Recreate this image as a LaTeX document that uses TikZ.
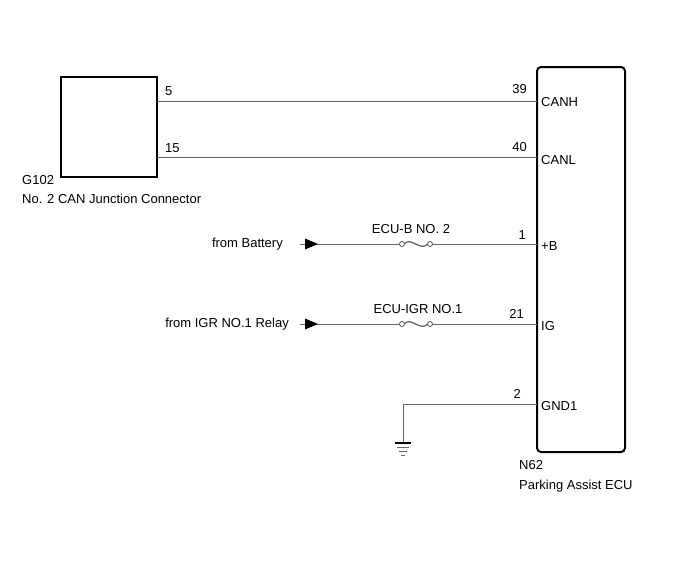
\documentclass[tikz,border=0pt]{standalone}
\usepackage{fontspec}
\setmainfont{Liberation Sans}
\begin{document}
\begin{tikzpicture}[x=1pt,y=-1pt,
  lbl/.style={font=\fontsize{13}{15}\selectfont,inner sep=0pt},
  wire/.style={draw=black!60,line width=0.9pt},
  box/.style={draw=black,line width=2pt},
  fuse/.style={wire,fill=white}]
\useasboundingbox (0,0) rectangle (688,560);
\draw[box] (61,77) rectangle (157,177);
\draw[box,rounded corners=4pt] (537,67) rectangle (625,452);
\coordinate (g5) at (157,101); \coordinate (e39) at (537,101);
\coordinate (g15) at (157,157); \coordinate (e40) at (537,157);
\draw[wire] (g5) -- (e39);
\draw[wire] (g15) -- (e40);
\node[lbl,anchor=base west] (n5) at (165,95) {5};
\node[lbl,anchor=base east] (n39) at (527,93) {39};
\node[lbl,anchor=west] (canh) at (541,102) {CANH};
\node[lbl,anchor=base west] (n15) at (165,152) {15};
\node[lbl,anchor=base east] (n40) at (527,151) {40};
\node[lbl,anchor=west] (canl) at (541,160) {CANL};
% +B
\coordinate (b0) at (300,244); \coordinate (f1a) at (402,244); \coordinate (f1b) at (430,244); \coordinate (e1) at (537,244);
\draw[wire] (b0) -- (f1a); \draw[wire] (f1b) -- (e1);
\draw[wire,line width=1.3pt] (404,244) .. controls (411,236) and (420,252) .. (428,244);
\draw[fuse] (f1a) circle (2.5); \draw[fuse] (f1b) circle (2.5);
\fill (305,238.5) -- (318,244) -- (305,249.5) -- cycle;
\node[lbl,anchor=east] (bat) at (283,244) {from Battery};
\node[lbl,anchor=base] (fb) at (411,233) {ECU-B NO. 2};
\node[lbl,anchor=base east] (n1) at (526,239) {1};
\node[lbl,anchor=west] (pb) at (541,246) {+B};
% IG
\coordinate (i0) at (300,324); \coordinate (f2a) at (402,324); \coordinate (f2b) at (430,324); \coordinate (e21) at (537,324);
\draw[wire] (i0) -- (f2a); \draw[wire] (f2b) -- (e21);
\draw[wire,line width=1.3pt] (404,324) .. controls (411,316) and (420,332) .. (428,324);
\draw[fuse] (f2a) circle (2.5); \draw[fuse] (f2b) circle (2.5);
\fill (305,318.5) -- (318,324) -- (305,329.5) -- cycle;
\node[lbl,anchor=east] (igr) at (289,324) {from IGR NO.1 Relay};
\node[lbl,anchor=base] (fi) at (418,313) {ECU-IGR NO.1};
\node[lbl,anchor=base east] (n21) at (524,318) {21};
\node[lbl,anchor=west] (ig) at (541,326) {IG};
% GND
\coordinate (gc) at (403,404); \coordinate (e2) at (537,404); \coordinate (gg) at (403,443);
\draw[wire] (e2) -- (gc) -- (gg);
\draw[line width=1.6pt] (395,443) -- (411,443);
\draw[black!60,line width=0.8pt] (397,447) -- (409,447) (399,451) -- (407,451) (401,455) -- (405,455);
\node[lbl,anchor=base east] (n2) at (521,398) {2};
\node[lbl,anchor=west] (gnd) at (541,406) {GND1};
\node[lbl,anchor=base west] (g102) at (22,184) {G102};
\node[lbl,anchor=base west] (gname) at (22,203) {No. 2 CAN Junction Connector};
\node[lbl,anchor=base west] (n62) at (519,469) {N62};
\node[lbl,anchor=base west] (pa) at (519,489) {Parking Assist ECU};
\end{tikzpicture}
\end{document}
